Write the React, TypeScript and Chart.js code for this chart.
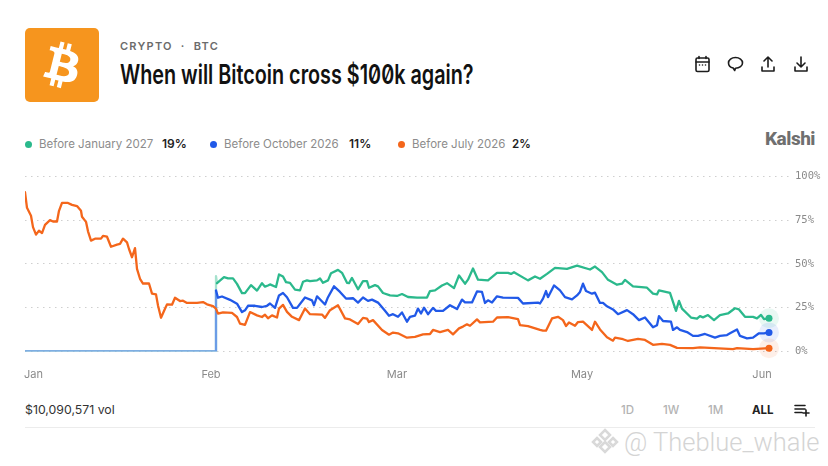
import React, { useEffect, useRef } from "react";
import { Chart, registerables } from "chart.js";

Chart.register(...registerables);

// Readings: [session count since the market opened, chance in %]
const orangeReadings: [number, number][] = [
  [0,91],[2,82],[6,77.5],[8,71],[11,66.7],[14,69],[17,67.6],[20,72.3],[25,75],[28,74.2],[32,74.2],[34,80.3],[37,84.8],[43,84.8],[47,83.7],[52,83],[56,80.3],[57,76.9],[61,74],[63,68.6],[66,63.3],[70,64.4],[76,64.4],[78,66],[82,65.5],[86,59.8],[92,61],[95,61.4],[98,64.4],[102,62.3],[104,58.5],[107,53.8],[110,59],[112,47.2],[115,41.5],[118,38.8],[124,38.8],[127,33],[131,32.6],[133,26.3],[136,19.3],[140,24.4],[142,26.9],[147,26.7],[150,30.7],[155,28.8],[158,29],[162,27.7],[172,27.8],[178,28.2],[182,26.9],[188,25.9],[191,24.4],[193,21.6],[198,22.3],[207,22],[212,19.7],[215,15.9],[220,15.2],[225,22.5],[232,20.6],[237,19.7],[240,21],[243,19],[247,20.6],
  [252,19.4],[254,24.5],[258,26.6],[262,22.6],[267,19.8],[274,17.9],[280,24.5],[285,21.3],[297,21.1],[300,19.2],[305,23.6],[313,26.4],[320,18.9],[325,18.3],[333,15.7],[338,19.2],[342,18.8],[344,16.8],[348,17.9],[357,12.3],[364,9.6],[368,10.8],[373,10.4],[382,7.9],[390,8.3],[398,9.8],[405,10],[408,12.3],[415,11.1],[423,12.3],[428,9.8],[434,13.2],[438,14.2],[442,15.5],[445,14.7],[452,18.3],[455,16.6],[468,17],[472,19.4],[483,19.6],[493,18.5],[495,15],[503,14.5],[515,12.3],
  [518,11.9],[521,11.9],[527,18.9],[533,19.8],[538,17.9],[541,14.5],[544,16.6],[550,14.7],[553,16.8],[558,17],[567,12.3],[570,17],[575,12.6],[582,8.1],[588,6.2],[590,7.9],[598,7],[603,6],[613,7.2],[620,6.6],[628,3.8],[637,4.3],[645,3.8],[652,2.1],[668,1.9],[675,2.3],[708,1.3],[712,1.9],[728,1.3],[744,1.9],
];
const greenReadings: [number, number][] = [
  [191,43],[192,39],[199,42.4],[203,41.7],[208,41.7],[212,38.6],[217,33.3],[220,33.3],[226,37.9],[232,34.8],[237,39],[240,37],[243,37.7],
  [245,38.3],[251,36.8],[254,44],[258,42.8],[261,39.6],[265,39.2],[270,35.3],[275,34.9],[278,39.8],[282,40.6],[285,40.2],[292,40.6],[295,41.7],[298,39.2],[303,40.6],[306,44.7],[313,46.6],[317,44.9],[322,39.2],[324,39],[327,42],[333,35.5],[338,40.2],[342,40.2],[344,36.4],[350,37.9],[353,37.2],[358,33.4],[365,32],[372,31.7],[377,32.8],[383,31.1],[392,30.8],[402,30.8],[405,34.5],[410,34.9],[417,37.7],[422,39],[429,36.2],[434,43.4],[440,38.7],[443,41],[448,47.4],[453,41],[463,40.6],[472,44.9],[483,44.9],[486,44.3],[489,45.3],[503,40.6],[510,42.8],
  [515,41.5],[522,44.3],[530,47.7],[542,47.2],[552,49],[565,46.8],[570,48.5],[577,45.3],[583,40.9],[592,38.1],[597,38.7],[600,40.9],[608,37.2],[622,36.4],[628,33],[632,32.6],[634,34.9],[645,33.4],[651,23.2],[654,28.9],[657,24.5],[666,19.4],[672,18.7],[675,20.2],[678,19.5],[683,20.8],[689,17.9],[695,20.8],[703,21.7],[710,24.7],[714,24],[720,19.8],[728,19.8],[732,18.9],[736,20.9],[739,18.5],[744,19],
];
const blueReadings: [number, number][] = [
  [191,34.8],[193,30.7],[197,31.4],[205,29.5],[212,27.3],[217,22.5],[220,23.5],[223,26.1],[230,26.1],[237,25.4],[242,26.1],
  [245,27.4],[250,24.9],[254,32],[258,33.4],[262,31],[268,24.9],[272,24.9],[280,30.8],[287,29.2],[289,26.4],[292,31.5],[300,26.8],[303,31],[309,37.2],[315,34],[321,30.2],[328,30.4],[333,27.9],[338,30.8],[343,28.9],[347,29.6],[353,27.9],[360,23.2],[364,20.4],[368,21.3],[373,19.8],[377,22.3],[382,17],[385,19.8],[390,20.5],[393,24.5],[396,21.7],[399,25],[403,21.3],[408,24.9],[411,23.2],[418,23.2],[425,26.4],[432,24.2],[437,29.6],[440,28],[447,28],[452,34.3],[457,34],[460,27.7],[463,29.2],[467,28],[472,31.5],[478,30.8],[493,30.6],[498,27.4],[513,27.9],
  [515,27.4],[518,30.2],[521,34.5],[523,31],[529,37.7],[535,34.9],[540,31],[547,29.8],[552,32],[555,34],[558,38.7],[561,34.5],[567,33],[570,33.6],[575,27.7],[578,27.7],[582,25.8],[588,24],[593,21.3],[602,23.6],[608,21.3],[614,17.9],[620,19.4],[628,13.8],[632,15],[634,20.2],[638,17.4],[646,17],[648,12.3],[652,13.8],[655,12.3],[662,11.1],[668,8.9],[673,8.9],[680,10],[690,7.9],[695,8.9],[702,9.4],[705,10.4],[712,12.6],[715,8.9],[722,7.5],[728,7.9],[734,10.4],[739,10.4],[744,10.9],
];
const seriesOpenAt = 191;
const monthLabels = ["Jan", "Feb", "Mar", "May", "Jun"];
const monthAt = [8.5, 186, 372, 557, 737];
const yTicks = [0, 25, 50, 75, 100];
const xSpan = 765;

const GREEN = "#2bb98c";
const BLUE = "#2159e8";
const ORANGE = "#f4661b";
const UI = "Inter, Roboto, sans-serif";

const pts = (r: [number, number][]) => r.map(([x, y]) => ({ x, y }));
const withOpening = (r: [number, number][]) => [
  { x: 0, y: 0 },
  { x: seriesOpenAt, y: 0 },
  ...pts(r),
];

const endDots = {
  id: "endDots",
  afterDatasetsDraw(chart: any) {
    const { ctx } = chart;
    chart.data.datasets.forEach((ds: any, i: number) => {
      const els = chart.getDatasetMeta(i).data;
      const p = els[els.length - 1];
      ctx.save();
      ctx.fillStyle = ds.borderColor;
      ctx.globalAlpha = 0.1;
      ctx.beginPath();
      ctx.arc(p.x, p.y, 10, 0, Math.PI * 2);
      ctx.fill();
      ctx.globalAlpha = 1;
      ctx.beginPath();
      ctx.arc(p.x, p.y, 3.5, 0, Math.PI * 2);
      ctx.fill();
      ctx.restore();
    });
  },
};

function T({ x, y, s, c, w, style, children }: any) {
  return (
    <span
      style={{
        position: "absolute", left: x, top: y, fontSize: s, color: c, fontWeight: w ?? 400,
        fontFamily: UI, lineHeight: "16px", whiteSpace: "nowrap", ...style,
      }}
    >
      {children}
    </span>
  );
}

const Dot = ({ x, c }: any) => (
  <span style={{ position: "absolute", left: x - 3.5, top: 140.5, width: 7, height: 7, borderRadius: "50%", background: c }} />
);

const icon = { fill: "none", stroke: "#1c1c1c", strokeWidth: 1.6, strokeLinecap: "round", strokeLinejoin: "round" } as any;

export default function App() {
  const ref = useRef<HTMLCanvasElement>(null);
  useEffect(() => {
    const light = (color: string, n: number) => (ctx: any) => (ctx.p0DataIndex < n ? color : undefined);
    const chart = new Chart(ref.current!, {
      type: "line",
      data: {
        datasets: [
          { label: "Before January 2027", order: 3, data: withOpening(greenReadings), borderColor: GREEN, segment: { borderColor: light("#a5e2cd", 3) } },
          { label: "Before October 2026", order: 2, data: withOpening(blueReadings), borderColor: BLUE, segment: { borderColor: light("#6b9ce6", 2) } },
          { label: "Before July 2026", order: 1, data: pts(orangeReadings), borderColor: ORANGE },
        ],
      } as any,
      options: {
        responsive: false,
        animation: false,
        layout: { padding: { left: 25, top: 10, right: 0, bottom: 0 } },
        elements: { point: { radius: 0 }, line: { borderWidth: 2.3, tension: 0, borderJoinStyle: "round", borderCapStyle: "round" } },
        plugins: { legend: { display: false }, tooltip: { enabled: false } },
        scales: {
          x: {
            type: "linear", min: 0, max: xSpan,
            grid: { display: false }, border: { display: false },
            afterBuildTicks: (s: any) => { s.ticks = monthAt.map((value) => ({ value })); },
            afterFit: (s: any) => { s.height = 38.5; },
            ticks: {
              autoSkip: false, maxRotation: 0, padding: 9, color: "#8a8a8a",
              font: { family: UI, size: 11 },
              callback: (v: any) => monthLabels[monthAt.indexOf(Number(v))],
            },
          },
          y: {
            position: "right", min: 0, max: 100,
            afterBuildTicks: (s: any) => { s.ticks = yTicks.map((value) => ({ value })); },
            afterFit: (s: any) => { s.width = 38; },
            border: { display: false, dash: [1.5, 4.5] },
            grid: { color: "#cfcfcf", lineWidth: 1, drawTicks: false },
            ticks: {
              padding: 5, color: "#8a8a8a",
              font: { family: "'DejaVu Sans Mono', monospace", size: 10.5 },
              callback: (v: any) => `${v}%`,
            },
          },
        },
      } as any,
      plugins: [endDots],
    });
    return () => chart.destroy();
  }, []);

  return (
    <div style={{ position: "absolute", left: 0, top: 0, width: 828, height: 466, overflow: "hidden", background: "#fff" }}>
      <svg viewBox="0 0 24 24" width="74" height="74" style={{ position: "absolute", left: 24.5, top: 27.5 }}>
        <rect width="24" height="24" rx="1.6" fill="#f6951e" />
        <path fill="#fff" d="M17.27 10.44c.24-1.59-.97-2.45-2.63-3.02l.54-2.15-1.31-.33-.52 2.1c-.35-.09-.7-.17-1.05-.25l.53-2.11-1.31-.33-.54 2.15c-.29-.07-.57-.13-.84-.2l-1.81-.45-.35 1.4s.97.22.95.24c.53.13.63.48.61.76l-.61 2.46c.04.01.08.02.14.04l-.14-.03-.86 3.44c-.07.16-.23.4-.6.31.01.02-.95-.24-.95-.24l-.65 1.5 1.71.43c.32.08.63.16.93.24l-.54 2.18 1.31.33.54-2.16c.36.1.7.19 1.04.27l-.54 2.15 1.31.33.54-2.18c2.24.42 3.92.25 4.63-1.77.57-1.63-.03-2.57-1.21-3.18.86-.2 1.51-.76 1.68-1.93zm-3 4.21c-.41 1.63-3.15.75-4.04.53l.72-2.89c.89.22 3.73.66 3.32 2.36zm.41-4.23c-.37 1.48-2.65.73-3.39.55l.65-2.62c.74.18 3.12.53 2.74 2.07z" />
      </svg>

      <T x={120} y={38} s={11} c="#6b6b6b" w={600} style={{ letterSpacing: 1.25 }}>CRYPTO&nbsp; ·&nbsp; BTC</T>
      <T x={120} y={61} s={27} c="#111" w={600} style={{ lineHeight: "28px", fontFeatureSettings: "'zero'", transform: "scaleX(0.733)", transformOrigin: "left" }}>
        When will Bitcoin cross $100k again?
      </T>

      <Dot x={28} c={GREEN} />
      <T x={39} y={136} s={11.5} c="#8c8c8c">Before January 2027</T>
      <T x={162} y={136} s={12} c="#222" w={600}>19%</T>
      <Dot x={213} c={BLUE} />
      <T x={224} y={136} s={11.5} c="#8c8c8c">Before October 2026</T>
      <T x={349} y={136} s={12} c="#222" w={600}>11%</T>
      <Dot x={401} c={ORANGE} />
      <T x={412} y={136} s={11.5} c="#8c8c8c">Before July 2026</T>
      <T x={512} y={136} s={11.5} c="#222" w={600}>2%</T>
      <T x={765} y={131} s={19} c="#6f6f6f" w={800} style={{ letterSpacing: -0.5, fontFamily: "Roboto, sans-serif" }}>Kalshi</T>

      <svg width="120" height="24" viewBox="0 0 120 24" style={{ position: "absolute", left: 692, top: 53 }} {...icon}>
        <rect x="4" y="5" width="13" height="13.5" rx="1.5" />
        <path d="M4 9h13M7 3.5v2M14 3.5v2M7.5 12h.01M10.5 12h.01M13.5 12h.01" />
        <path d="M43.5 4.5c4 0 7 2.3 7 5.4 0 3-3 5.4-7 5.4l-.8 2.2-1.5-2.5c-2.7-.7-4.7-2.7-4.7-5.1 0-3.1 3-5.4 7-5.4z" />
        <path d="M76 4v10M72 8l4-4 4 4M70 14v4h12v-4" />
        <path d="M109 4v10M105 10l4 4 4-4M103 14v4h12v-4" />
      </svg>

      <canvas ref={ref} width={828} height={225} style={{ position: "absolute", left: 0, top: 165, width: 828, height: 225 }} />

      <T x={25} y={402} s={12.3} c="#333">$10,090,571 vol</T>
      <T x={621} y={402} s={11.5} c="#b3b3b3" w={500}>1D</T>
      <T x={663} y={402} s={11.5} c="#b3b3b3" w={500}>1W</T>
      <T x={708} y={402} s={11.5} c="#b3b3b3" w={500}>1M</T>
      <T x={752} y={402} s={11.5} c="#222" w={700}>ALL</T>
      <svg width="16" height="14" viewBox="0 0 16 14" style={{ position: "absolute", left: 794, top: 403 }} {...icon}>
        <path d="M1 2.5h10M1 6h10M1 9.5h7M12 7v6M9 10h6" />
      </svg>
      <div style={{ position: "absolute", left: 25, top: 427, width: 790, height: 1, background: "#ececec" }} />

      <svg width="28" height="28" viewBox="0 0 28 28" style={{ position: "absolute", left: 591, top: 427 }} fill="none" stroke="#d9d9d9" strokeWidth="2.5">
        <path d="M14 3l5 5-5 5-5-5zM6 11l4 4-4 4-4-4zM22 11l4 4-4 4-4-4zM14 15l5 5-5 5-5-5z" />
      </svg>
      <T x={624} y={428} s={25.5} c="#d4d4d4" style={{ lineHeight: "28px", fontFamily: "Roboto, sans-serif", fontWeight: 300 }}>@ Theblue_whale</T>
    </div>
  );
}
